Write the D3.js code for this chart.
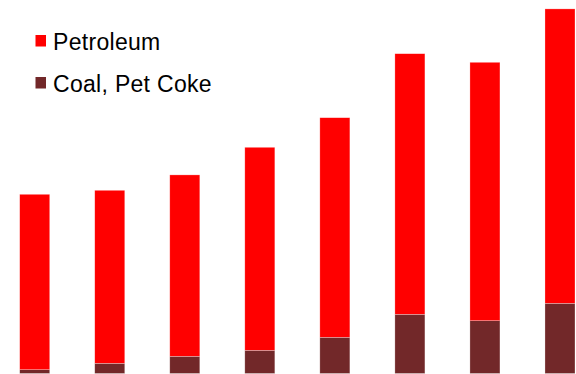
<!DOCTYPE html>
<html lang="en">
<head>
    <meta charset="utf-8">
    <title>Petroleum and Coal, Pet Coke</title>
    <style>
        body { margin: 0; background: #fff; }
        .legend text {
            font: 23px "Liberation Sans", Arial, sans-serif;
            letter-spacing: 0.3px;
            fill: #000;
        }
    </style>
</head>
<body>
<script src="https://cdn.jsdelivr.net/npm/d3@7"></script>
<script>

    // values (no axis shown, arbitrary units)
    var categories = ["1", "2", "3", "4", "5", "6", "7", "8"];
    var coal = [1.9, 5.1, 8.6, 11.6, 18.1, 29.6, 26.4, 35.1];
    var petroleum = [87.7, 86.5, 90.7, 101.5, 109.8, 130.3, 129.2, 147.2];
    var seriesNames = ["Petroleum", "Coal, Pet Coke"];
    var seriesColors = ["#ff0000", "#722829"];

    var width = 576,
        height = 374;

    var rows = categories.map(function (c, i) {
        return {cat: c, coal: coal[i], petroleum: petroleum[i]};
    });

    var svg = d3.select("body").append("svg")
        .attr("width", width)
        .attr("height", height);

    var x = d3.scaleBand()
        .domain(categories)
        .range([-2.8, 597.5])
        .paddingInner(0.6)
        .paddingOuter(0.3);

    var y = d3.scaleLinear()
        .domain([0, 186.75])
        .range([373.5, 0]);

    var stack = d3.stack().keys(["coal", "petroleum"]);
    var layers = stack(rows);
    var colorOf = {coal: seriesColors[1], petroleum: seriesColors[0]};

    svg.selectAll(".layer")
        .data(layers)
        .enter()
        .append("g")
        .attr("class", "layer")
        .attr("fill", function (d) { return colorOf[d.key]; })
        .selectAll("rect")
        .data(function (d) { return d; })
        .enter()
        .append("rect")
        .attr("x", function (d) { return x(d.data.cat); })
        .attr("width", x.bandwidth())
        .attr("y", function (d) { return y(d[1]); })
        .attr("height", function (d) { return y(d[0]) - y(d[1]); })
        .attr("stroke", "rgba(255,255,255,0.45)")
        .attr("stroke-width", 0.6);

    // legend
    var legend = svg.append("g")
        .attr("class", "legend")
        .selectAll("g")
        .data(seriesNames)
        .enter()
        .append("g")
        .attr("transform", function (d, i) {
            return "translate(35.5," + (35 + i * 42) + ")";
        });
    legend.append("rect")
        .attr("width", 10.5)
        .attr("height", 11.5)
        .attr("fill", function (d, i) { return seriesColors[i]; });
    legend.append("text")
        .attr("x", 17.5)
        .attr("y", 14.8)
        .text(function (d) { return d; });

</script>
</body>
</html>
